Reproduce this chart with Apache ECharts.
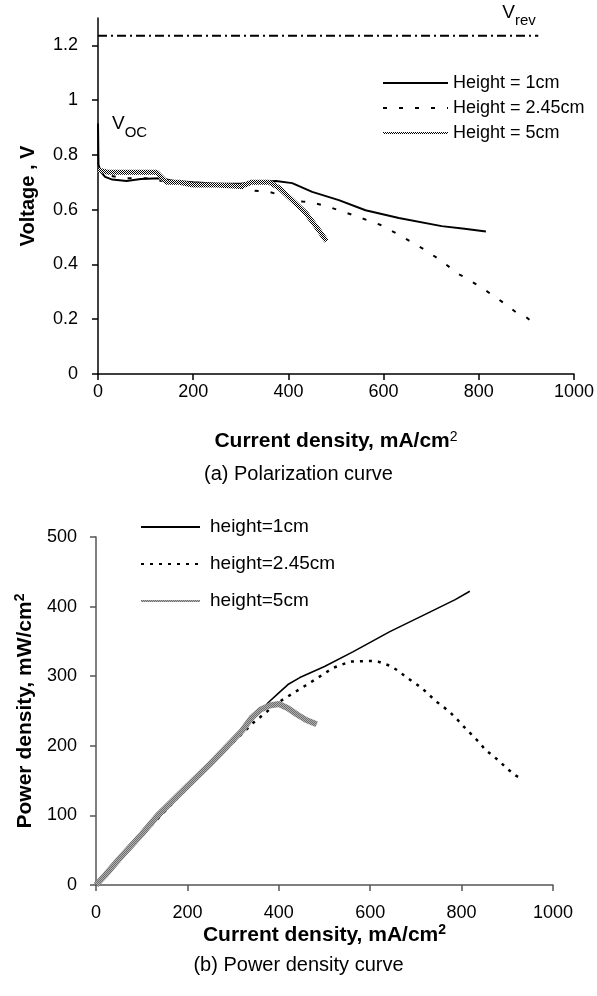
<!DOCTYPE html>
<html><head><meta charset="utf-8">
<script src="https://cdn.jsdelivr.net/npm/echarts@6/dist/echarts.min.js"></script>
<style>html,body{margin:0;padding:0;background:#fff}#c{width:597px;height:996px}</style>
</head><body><div id="c"></div>
<script>
// ---- data ----
const voltTicks = [0, 0.2, 0.4, 0.6, 0.8, 1, 1.2];
const curTicks = [0, 200, 400, 600, 800, 1000];
const powTicks = [0, 100, 200, 300, 400, 500];

const vNames = ['Height = 1cm', 'Height = 2.45cm', 'Height = 5cm'];
const pNames = ['height=1cm', 'height=2.45cm', 'height=5cm'];

const vRev = [[0, 1.235], [925, 1.235]];
const vOC = [[0, 0.915]];

const v1cm = [[0,0.915],[1,0.765],[5,0.74],[15,0.72],[30,0.71],[60,0.705],[90,0.712],[130,0.715],[160,0.705],[200,0.70],[250,0.695],[300,0.695],[322,0.70],[374,0.705],[408,0.697],[450,0.665],[506,0.635],[562,0.598],[632,0.57],[722,0.54],[770,0.53],[815,0.52]];
const v245cm = [[0,0.75],[20,0.725],[60,0.715],[100,0.715],[150,0.70],[200,0.695],[250,0.685],[300,0.68],[322,0.67],[360,0.665],[400,0.645],[429,0.63],[450,0.627],[492,0.606],[548,0.573],[594,0.544],[634,0.507],[670,0.47],[688,0.452],[724,0.41],[757,0.365],[774,0.35],[813,0.307],[847,0.266],[881,0.222],[899,0.209],[925,0.17]];
const v5cm = [[0,0.745],[20,0.737],[60,0.737],[123,0.737],[144,0.70],[170,0.70],[200,0.69],[250,0.69],[300,0.685],[322,0.70],[360,0.70],[380,0.68],[408,0.635],[437,0.587],[464,0.525],[480,0.485]];

const p1cm = [[0,0],[100,71],[200,141],[300,210],[350,244],[380,264],[400,276],[420,288],[446,298],[500,314],[562,335],[643,364],[727,391],[786,410],[818,422]];
const p245cm = [[0,0],[100,71],[200,140],[300,205],[344,233],[398,262],[457,286],[479,295],[519,312],[556,321],[600,322],[617,321],[643,315],[661,308],[680,298],[698,290],[713,283],[729,273],[746,263],[762,255],[778,246],[793,236],[807,226],[822,216],[840,204],[852,194],[868,186],[884,177],[900,167],[919,157],[925,155]];
const p5cm = [[0,0],[20,14],[50,37],[100,73],[135,100],[200,142],[250,174],[288,200],[320,222],[340,240],[360,252],[380,258],[400,260],[420,254],[440,245],[460,237],[483,231]];

// ---- style helpers ----
function checker(c1, c2) {
  const cv = document.createElement('canvas'); cv.width = 2; cv.height = 2;
  const g = cv.getContext('2d');
  g.fillStyle = c2; g.fillRect(0, 0, 2, 2);
  g.fillStyle = c1; g.fillRect(0, 0, 1, 1); g.fillRect(1, 1, 1, 1);
  return { image: cv, repeat: 'repeat' };
}
const FONT = "'Liberation Sans', Arial, Helvetica, sans-serif";
const chart = echarts.init(document.getElementById('c'), null, { renderer: 'canvas' });

const axisCommon = (col, margin) => ({
  axisLine: { show: true, onZero: false, lineStyle: { color: col, width: 1.5 } },
  axisTick: { show: true, inside: false, length: 6, lineStyle: { color: col, width: 1.5 } },
  splitLine: { show: false },
  axisLabel: { color: '#000', fontSize: 18, fontFamily: FONT, margin: margin, formatter: v => String(v) }
});
const subRich = (bold, lh) => ({
  t: { fontSize: 21, fontWeight: 'bold', fontFamily: FONT, color: '#000', lineHeight: lh },
  s: { fontSize: 14, fontWeight: bold ? 'bold' : 'normal', fontFamily: FONT, color: '#000', lineHeight: lh, verticalAlign: 'top' }
});

const option = {
  animation: false,
  backgroundColor: '#fff',
  grid: [
    { left: 98, width: 478, top: 18, height: 356 },
    { left: 96, width: 457, top: 537, height: 348 }
  ],
  xAxis: [
    Object.assign(axisCommon('#000', 9), {
      gridIndex: 0, type: 'value', min: 0, max: 1000, interval: 200,
      name: '{t|Current density, mA/cm}{s|2}', nameLocation: 'middle', nameGap: 56,
      nameTextStyle: { rich: subRich(false, 22) }
    }),
    Object.assign(axisCommon('#555', 19), {
      gridIndex: 1, type: 'value', min: 0, max: 1000, interval: 200,
      name: '{t|Current density, mA/cm}{s|2}', nameLocation: 'middle', nameGap: 33,
      nameTextStyle: { rich: subRich(true, 24) }
    })
  ],
  yAxis: [
    (function () {
      const a = axisCommon('#000', 20);
      a.axisLabel.customValues = voltTicks;
      a.axisTick.customValues = voltTicks;
      return Object.assign(a, {
        gridIndex: 0, type: 'value', min: 0, max: 1.3,
        name: 'Voltage , V', nameLocation: 'middle', nameGap: 60,
        nameTextStyle: { fontSize: 20, fontWeight: 'bold', fontFamily: FONT, color: '#000' }
      });
    })(),
    (function () {
      const a = axisCommon('#555', 19);
      a.axisLabel.customValues = powTicks;
      a.axisTick.customValues = powTicks;
      return Object.assign(a, {
        gridIndex: 1, type: 'value', min: 0, max: 500, interval: 100,
        name: '{t|Power density, mW/cm}{s|2}', nameLocation: 'middle', nameGap: 56,
        nameTextStyle: { rich: subRich(true, 24) }
      });
    })()
  ],
  legend: [
    { data: vNames, orient: 'vertical', left: 382, top: 74, padding: 0, itemWidth: 65, itemHeight: 14, itemGap: 7,
      itemStyle: { opacity: 0 },
      textStyle: { fontSize: 18, fontFamily: FONT, color: '#000', lineHeight: 18 }, selectedMode: false },
    { data: pNames, orient: 'vertical', left: 140, top: 517, padding: 0, itemWidth: 59, itemHeight: 14, itemGap: 17,
      itemStyle: { opacity: 0 },
      textStyle: { fontSize: 19, fontFamily: FONT, color: '#000', lineHeight: 20, padding: [0, 0, 0, 5] }, selectedMode: false }
  ],
  graphic: [
    { type: 'text', left: 'center', top: 464, style: { text: '(a) Polarization curve', fontSize: 20, fontFamily: FONT, fill: '#000' } },
    { type: 'text', left: 'center', top: 955, style: { text: '(b) Power density curve', fontSize: 20, fontFamily: FONT, fill: '#000' } }
  ],
  series: [
    { type: 'line', name: 'Vrev', xAxisIndex: 0, yAxisIndex: 0, data: vRev, symbol: 'none', silent: true,
      lineStyle: { color: '#000', width: 2, type: [9, 4, 2, 4] },
      endLabel: { show: true, formatter: '{a|V}{b|rev}', offset: [-44, -20],
        rich: { a: { fontSize: 19, fontFamily: FONT, color: '#000', lineHeight: 26, verticalAlign: 'top' },
                b: { fontSize: 15, fontFamily: FONT, color: '#000', lineHeight: 26, verticalAlign: 'bottom' } } } },
    { type: 'scatter', name: 'Voc', xAxisIndex: 0, yAxisIndex: 0, data: vOC, symbolSize: 0, silent: true,
      itemStyle: { opacity: 1, color: '#000' },
      label: { show: true, position: 'right', distance: 14, offset: [0, 4], color: '#000', formatter: '{a|V}{b|OC}',
        rich: { a: { fontSize: 19, fontFamily: FONT, color: '#000', lineHeight: 26, verticalAlign: 'top' },
                b: { fontSize: 15, fontFamily: FONT, color: '#000', lineHeight: 26, verticalAlign: 'bottom' } } } },
    { type: 'line', name: vNames[0], xAxisIndex: 0, yAxisIndex: 0, data: v1cm, symbol: 'none',
      lineStyle: { color: '#000', width: 2 }, itemStyle: { color: '#000' } },
    { type: 'line', name: vNames[1], xAxisIndex: 0, yAxisIndex: 0, data: v245cm, symbol: 'none',
      lineStyle: { color: '#000', width: 2, type: [4, 12] }, itemStyle: { color: '#000' } },
    { type: 'line', name: vNames[2], xAxisIndex: 0, yAxisIndex: 0, data: v5cm, symbol: 'none', z: 3,
      lineStyle: { color: checker('#000', '#fff'), width: 5 }, itemStyle: { color: '#777' } },

    { type: 'line', name: pNames[0], xAxisIndex: 1, yAxisIndex: 1, data: p1cm, symbol: 'none',
      lineStyle: { color: '#000', width: 1.6 }, itemStyle: { color: '#000' } },
    { type: 'line', name: pNames[1], xAxisIndex: 1, yAxisIndex: 1, data: p245cm, symbol: 'none',
      lineStyle: { color: '#000', width: 2.5, type: [3, 6] }, itemStyle: { color: '#000' } },
    { type: 'line', name: pNames[2], xAxisIndex: 1, yAxisIndex: 1, data: p5cm, symbol: 'none', z: 3,
      lineStyle: { color: checker('#6e6e6e', '#b0b0b0'), width: 6 }, itemStyle: { color: '#999' } }
  ]
};
chart.setOption(option);
</script>
</body></html>
